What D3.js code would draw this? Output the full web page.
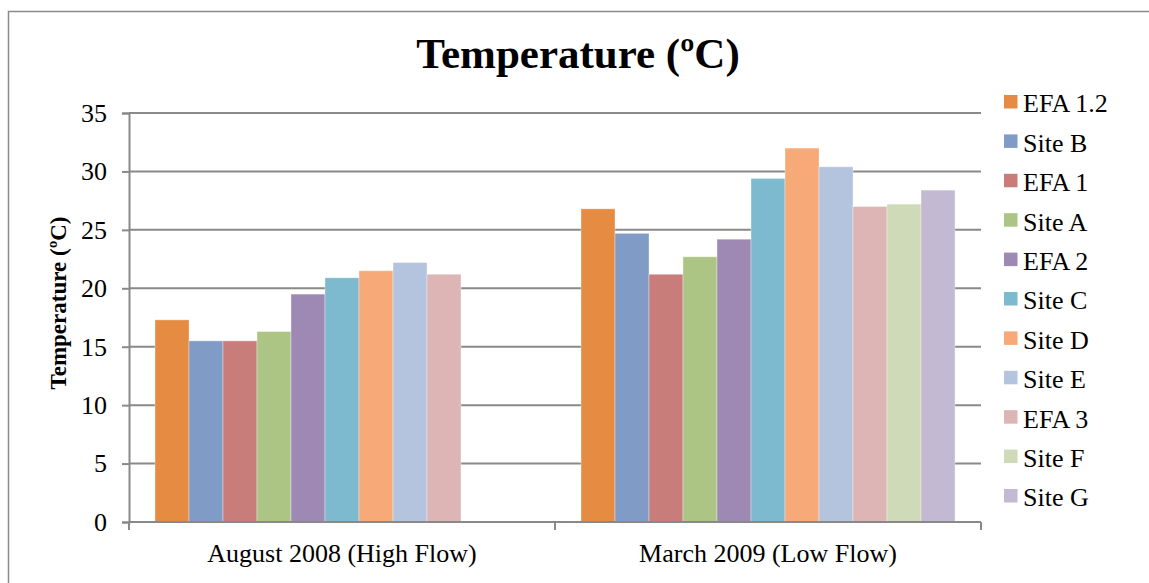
<!DOCTYPE html>
<html><head><meta charset="utf-8">
<script src="https://cdn.jsdelivr.net/npm/d3@7"></script>
<style>
html,body{margin:0;padding:0;background:#fff;}
svg{display:block;font-family:"Liberation Serif","Times New Roman",serif;}
</style></head>
<body><svg id="c" width="1149" height="583"></svg>
<script>
const categories = ["August 2008 (High Flow)", "March 2009 (Low Flow)"];
const seriesNames = ["EFA 1.2","Site B","EFA 1","Site A","EFA 2","Site C","Site D","Site E","EFA 3","Site F","Site G"];
const augustValues = [17.3, 15.5, 15.5, 16.3, 19.5, 20.9, 21.5, 22.2, 21.2, null, null];
const marchValues  = [26.8, 24.7, 21.2, 22.7, 24.2, 29.4, 32.0, 30.4, 27.0, 27.2, 28.4];
const seriesColors = ["#E68C42","#7F9BC6","#C97D7B","#ADC584","#9D89B3","#7DB9CF","#F7AA78","#B4C3DE","#DEB5B5","#CEDAB8","#C3B9D3"];
const yTicks = [0,5,10,15,20,25,30,35];
const titleText = "Temperature (ºC)";
const yTitleText = "Temperature (ºC)";

const svg = d3.select("#c");
const gridColor = "#898989";

// outer chart border
svg.append("rect").attr("x",8.5).attr("y",11.5).attr("width",1160).attr("height",600)
  .attr("fill","none").attr("stroke","#8a8a8a").attr("stroke-width",1.5);

const plot = {left:129, right:981, top:113, bottom:522};
const y = d3.scaleLinear().domain([0,35]).range([plot.bottom, plot.top]);
const x0 = d3.scaleBand().domain(categories).range([plot.left, plot.right]).paddingInner(0).paddingOuter(0);
const x1 = d3.scaleBand().domain(seriesNames).range([0, x0.bandwidth()]).paddingInner(0).paddingOuter(0.765);

// gridlines
svg.append("g").selectAll("line").data(yTicks.filter(d=>d>0)).join("line")
  .attr("x1",plot.left).attr("x2",plot.right)
  .attr("y1",d=>y(d)).attr("y2",d=>y(d))
  .attr("stroke",gridColor).attr("stroke-width",2);

// bars
const rows = [augustValues, marchValues];
const barG = svg.append("g");
categories.forEach((cat, ci) => {
  const data = seriesNames.map((s, si) => ({s, v: rows[ci][si], c: seriesColors[si]})).filter(d => d.v != null);
  barG.append("g").selectAll("rect").data(data).join("rect")
    .attr("x", d => x0(cat) + x1(d.s))
    .attr("width", x1.bandwidth())
    .attr("y", d => y(d.v))
    .attr("height", d => y(0) - y(d.v))
    .attr("fill", d => d.c)
    .attr("stroke","rgba(255,255,255,0.35)").attr("stroke-width",1);
});

// y axis
const yAxis = d3.axisLeft(y).tickValues(yTicks).tickSize(7).tickPadding(15).tickFormat(d3.format("d"));
const yg = svg.append("g").attr("transform",`translate(${plot.left},0)`).call(yAxis);
yg.select(".domain").attr("stroke",gridColor).attr("stroke-width",2);
yg.selectAll(".tick line").attr("stroke",gridColor).attr("stroke-width",2);
yg.selectAll(".tick text").attr("font-family","Liberation Serif").attr("font-size",26).attr("fill","#000");

// x axis
const xAxis = d3.axisBottom(x0).tickSize(0).tickPadding(22);
const xg = svg.append("g").attr("transform",`translate(0,${plot.bottom})`).call(xAxis);
xg.select(".domain").remove();
xg.append("line").attr("x1",plot.left).attr("x2",plot.right).attr("stroke",gridColor).attr("stroke-width",2);
const boundaries = [plot.left].concat(categories.map(c => x0(c) + x0.bandwidth()));
xg.selectAll(".bnd").data(boundaries).join("line").attr("class","bnd")
  .attr("x1",d=>d).attr("x2",d=>d).attr("y1",0).attr("y2",8)
  .attr("stroke",gridColor).attr("stroke-width",2);
xg.selectAll(".tick text").attr("font-family","Liberation Serif").attr("font-size",26).attr("fill","#000");

// title
svg.append("text").attr("x",578).attr("y",68).attr("text-anchor","middle")
  .attr("font-size",43).attr("font-weight","bold").text(titleText);

// y title
svg.append("text").attr("transform","translate(66,303) rotate(-90)").attr("text-anchor","middle")
  .attr("font-size",23).attr("font-weight","bold").text(yTitleText);

// legend
const leg = svg.append("g").attr("transform","translate(1004,95)");
const li = leg.selectAll("g").data(seriesNames).join("g").attr("transform",(d,i)=>`translate(0,${i*39.4})`);
li.append("rect").attr("width",13.5).attr("height",13.5).attr("fill",(d,i)=>seriesColors[i]);
li.append("text").attr("x",19).attr("y",17.3).attr("font-size",26).attr("fill","#000").text(d=>d);
</script></body></html>
